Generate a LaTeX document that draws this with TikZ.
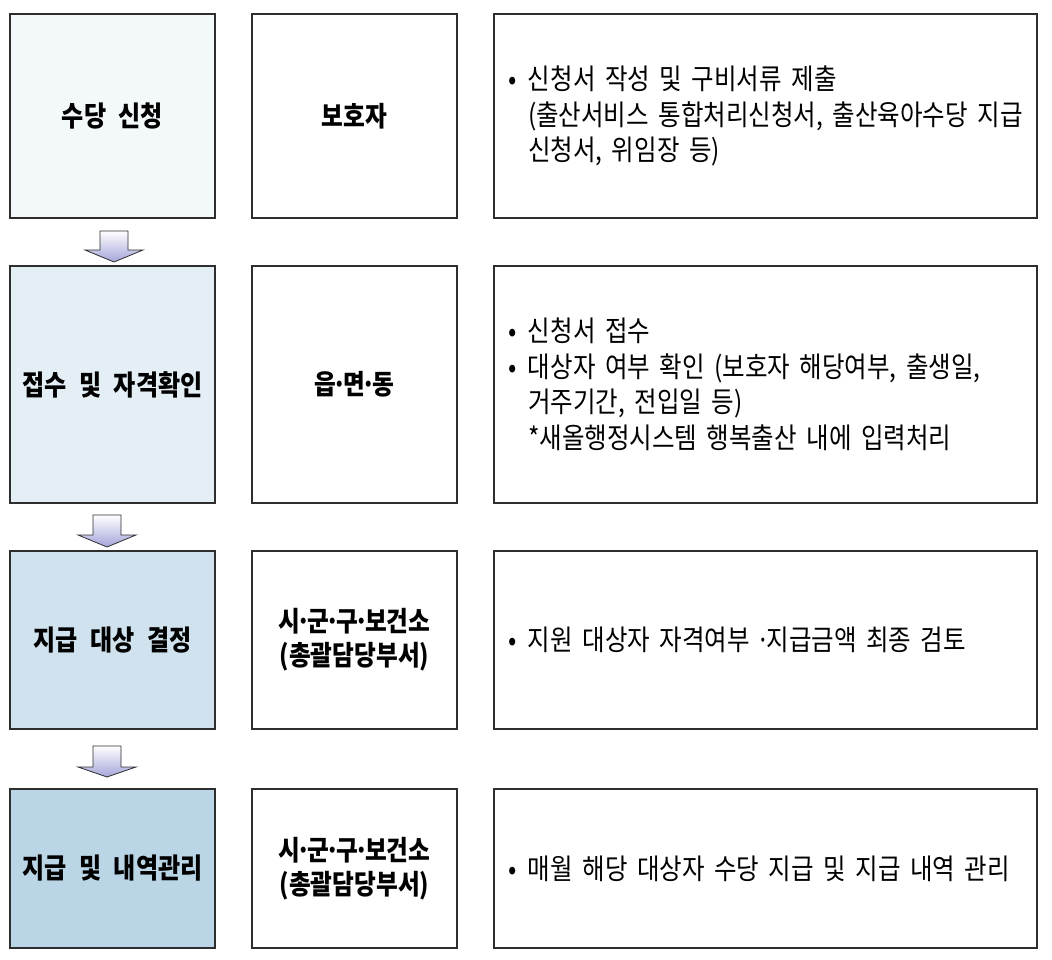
\documentclass[tikz,border=0pt]{standalone}
\usepackage{fontspec}
\newfontfamily\kr{Noto Sans CJK KR}[FakeStretch=0.86]
\usetikzlibrary{positioning}
\definecolor{bordc}{HTML}{2E2E2E}
\definecolor{fa}{HTML}{F3F8FB}
\definecolor{fb}{HTML}{E4EFF5}
\definecolor{fc}{HTML}{CFE2EE}
\definecolor{fd}{HTML}{B9D5E6}
\definecolor{arrowc}{HTML}{A4A4DA}
\newcommand{\stagefont}{\kr\bfseries\fontsize{28}{34}\selectfont\spaceskip 12.5pt plus 1pt\relax}
\newcommand{\whofont}{\kr\bfseries\fontsize{27.5}{34}\selectfont}
\newcommand{\descfont}{\kr\fontsize{28.5}{35.5}\selectfont\spaceskip 10pt plus 1pt\relax}
\tikzset{
  box/.style={draw=bordc, line width=1.3pt, inner sep=0pt, align=center},
  stagebox/.style={box, minimum width=205pt, font=\stagefont},
  whobox/.style={box, minimum width=205pt, font=\whofont},
  descbox/.style={box, minimum width=543pt, text width=515pt, align=left, font=\descfont},
  blockarr/.style={draw=bordc, line width=0.8pt, top color=white, bottom color=arrowc}
}
\newcommand{\bul}{\makebox[20pt][l]{•}}
\newcommand{\ind}{\hspace*{20pt}}
\newcommand{\md}{\makebox[7pt]{·}}
\newcommand{\downblock}[4]{% cx, ytop, yshoulder, ytip
  \shade[blockarr] (#1-14,#2) -- (#1+14,#2) -- (#1+14,#3) -- (#1+29,#3) -- (#1,#4) -- (#1-29,#3) -- (#1-14,#3) -- cycle;}
\begin{document}
\begin{tikzpicture}[x=1pt,y=-1pt]
\useasboundingbox (0,0) rectangle (1052,960);
% row 1
\node[stagebox, fill=fa, minimum height=204pt] (s1) at (112.5,116) {수당 신청};
\node[whobox, minimum height=204pt] (w1) at (354.5,116) {보호자};
\node[descbox, minimum height=204pt] (d1) at (765.5,116) {\bul 신청서 작성 및 구비서류 제출\\\ind(출산서비스 통합처리신청서, 출산육아수당 지급\\\ind 신청서, 위임장 등)};
% row 2
\node[stagebox, fill=fb, minimum height=237pt] (s2) at (112.5,384.5) {접수 및 자격확인};
\node[whobox, minimum height=237pt] (w2) at (354.5,384.5) {읍\md 면\md 동};
\node[descbox, minimum height=237pt] (d2) at (765.5,384.5) {\bul 신청서 접수\\\bul 대상자 여부 확인 (보호자 해당여부, 출생일,\\\ind 거주기간, 전입일 등)\\\ind *새올행정시스템 행복출산 내에 입력처리};
% row 3
\node[stagebox, fill=fc, minimum height=178pt] (s3) at (112.5,640) {지급 대상 결정};
\node[whobox, minimum height=178pt] (w3) at (354.5,640) {시\md 군\md 구\md 보건소\\(총괄담당부서)};
\node[descbox, minimum height=178pt] (d3) at (765.5,640) {\bul 지원 대상자 자격여부 \md 지급금액 최종 검토};
% row 4
\node[stagebox, fill=fd, minimum height=159pt] (s4) at (112.5,868.5) {지급 및 내역관리};
\node[whobox, minimum height=159pt] (w4) at (354.5,868.5) {시\md 군\md 구\md 보건소\\(총괄담당부서)};
\node[descbox, minimum height=159pt] (d4) at (765.5,868.5) {\bul 매월 해당 대상자 수당 지급 및 지급 내역 관리};
% arrows
\downblock{114}{231}{250}{262}
\downblock{107}{515}{535}{547}
\downblock{107}{746}{767}{777}
\end{tikzpicture}
\end{document}
